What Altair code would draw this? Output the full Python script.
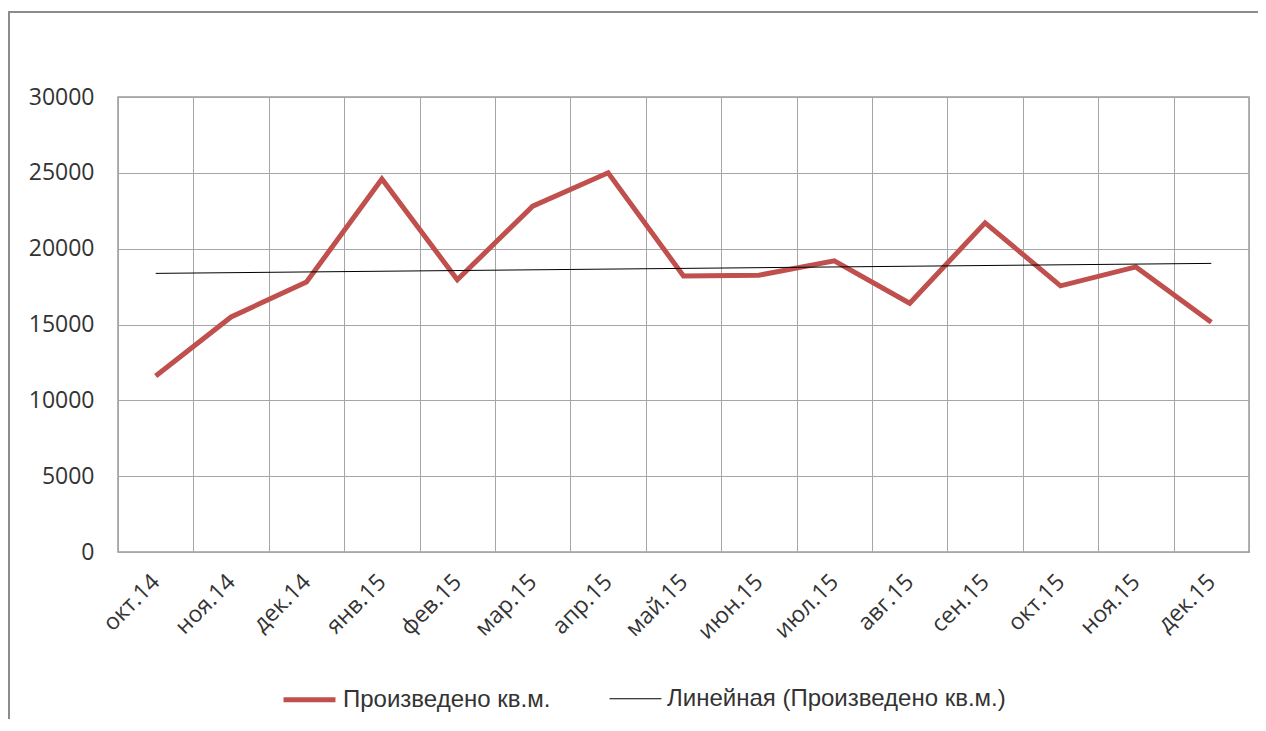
import altair as alt
import pandas as pd

months = ["окт.14", "ноя.14", "дек.14", "янв.15", "фев.15", "мар.15", "апр.15",
          "май.15", "июн.15", "июл.15", "авг.15", "сен.15", "окт.15", "ноя.15", "дек.15"]
produced = [11600, 15500, 17800, 24600, 17950, 22800, 25000,
            18200, 18250, 19200, 16400, 21700, 17550, 18800, 15150]
series_names = ["Произведено кв.м.", "Линейная (Произведено кв.м.)"]
series_colors = ["#c0504d", "#000000"]
series_widths = [5, 1]
y_ticks = [0, 5000, 10000, 15000, 20000, 25000, 30000]

df = pd.DataFrame({"month": months, "idx": list(range(len(months))), "value": produced,
                   "series": series_names[0]})

AX_FONT = "Open Sans"
LG_FONT = "Liberation Sans"
TXT = "#333333"
GRID = "#a6a6a6"

x_enc = alt.X(
    "month:N", sort=months,
    scale=alt.Scale(type="band", paddingInner=0, paddingOuter=0),
    axis=alt.Axis(title=None, tickBand="extent", labelAngle=-45, labelAlign="right",
                  labelBaseline="middle", labelPadding=26, ticks=False, domain=False,
                  grid=True, gridColor=GRID, gridWidth=1, labelFont=AX_FONT,
                  labelFontSize=23, labelColor=TXT),
)
y_enc = alt.Y(
    "value:Q",
    scale=alt.Scale(domain=[0, 30000], nice=False),
    axis=alt.Axis(title=None, values=y_ticks, format="d", ticks=False, domain=False,
                  grid=True, gridColor=GRID, gridWidth=1, labelPadding=24,
                  labelFont=AX_FONT, labelFontSize=23, labelColor=TXT),
)
legend_def = alt.Legend(title=None, orient="none", legendX=163, legendY=574,
                        direction="horizontal", symbolType="stroke", symbolSize=2700,
                        labelFont=LG_FONT, labelFontSize=24, labelColor=TXT,
                        labelOffset=5, columnPadding=56, padding=0, labelLimit=600)
color_enc = alt.Color(
    "series:O",
    scale=alt.Scale(domain=series_names, range=series_colors),
    legend=legend_def,
)
width_enc = alt.StrokeWidth(
    "series:O",
    scale=alt.Scale(domain=series_names, range=series_widths),
    legend=legend_def,
)

months_js = "[" + ",".join("'" + m + "'" for m in months) + "]"

frame = alt.Chart(alt.Data(values=[{"k": 1}])).mark_rect(
    fill="transparent", stroke="#8c8c8c", strokeWidth=2
).encode(x=alt.value(-109), x2=alt.value(1400), y=alt.value(-85), y2=alt.value(900))

main = alt.Chart(df).mark_line(strokeJoin="miter").encode(
    x=x_enc, y=y_enc, color=color_enc, strokeWidth=width_enc
)

trend = alt.Chart(df).transform_regression(
    "idx", "value", method="linear", extent=[0, len(months) - 1]
).transform_calculate(
    month=months_js + "[datum.idx]",
    series="'" + series_names[1] + "'",
).mark_line().encode(
    x=x_enc, y=y_enc, color=color_enc, strokeWidth=width_enc
)

chart = alt.layer(frame, main, trend).properties(
    width=1131, height=455,
    autosize=alt.AutoSizeParams(type="none"),
    padding={"left": 110, "top": 89, "right": 9, "bottom": 167},
).configure_view(stroke="#9a9a9a", strokeWidth=1.5)

chart.save("out.html", embed_options={"renderer": "svg", "actions": False})
